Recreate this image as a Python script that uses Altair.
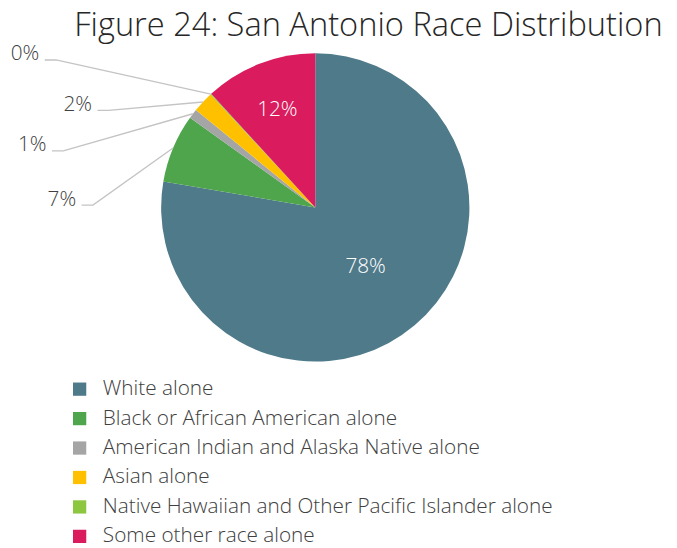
import math
import altair as alt
import pandas as pd

# ---- data ----
categories = [
    "White alone",
    "Black or African American alone",
    "American Indian and Alaska Native alone",
    "Asian alone",
    "Native Hawaiian and Other Pacific Islander alone",
    "Some other race alone",
]
shares = [77.7, 7.2, 1.0, 2.2, 0.1, 11.8]
pct_labels = ["78%", "7%", "1%", "2%", "0%", "12%"]
colors = ["#4F7A8A", "#4EA54B", "#A5A5A5", "#FFC000", "#8DC63F", "#DA1B5E"]
title_text = "Figure 24: San Antonio Race Distribution"

# ---- layout (pixels) ----
W, H = 669, 540
CX, CY, R = 311, 198.6, 156
FONT = "Open Sans"
LABEL_SIZE = 21
inside_radius = {"White alone": 79, "Some other race alone": 106}
elbows = {
    "Black or African American alone": (86, 196.3),
    "American Indian and Alaska Native alone": (56, 141.3),
    "Asian alone": (102, 100.3),
    "Native Hawaiian and Other Pacific Islander alone": (48.7, 49.3),
}
TAIL = 11.5

total = sum(shares)
rows = []
cum = 0.0
for i, (c, s, lab) in enumerate(zip(categories, shares, pct_labels)):
    mid = (cum + s / 2) / total * 2 * math.pi
    rows.append(dict(category=c, share=s, idx=i, label=lab, mid=mid, cx=CX, cy=CY))
    cum += s
df = pd.DataFrame(rows)
for c, rad in inside_radius.items():
    df["in_" + str(rad)] = [lab if cat == c else "" for cat, lab in zip(df.category, df.label)]

line_rows, out_rows = [], []
for r in rows:
    if r["category"] in elbows:
        ex, ey = elbows[r["category"]]
        sx = CX + R * math.sin(r["mid"])
        sy = CY - R * math.cos(r["mid"])
        pts = [(sx, sy), (ex, ey), (ex - TAIL, ey)]
        for k, (px, py) in enumerate(pts):
            line_rows.append(dict(category=r["category"], k=k, px=px, py=py))
        out_rows.append(dict(label=r["label"], px=ex - TAIL - 5.5, py=ey + 0.5))
lines_df = pd.DataFrame(line_rows)
out_df = pd.DataFrame(out_rows)

theta = alt.Theta("share:Q", stack=True)
order = alt.Order("idx:Q")
cx = alt.X("cx:Q", scale=None, axis=None)
cy = alt.Y("cy:Q", scale=None, axis=None)

arc = alt.Chart(df).mark_arc(outerRadius=R).encode(
    theta=theta,
    order=order,
    color=alt.Color(
        "category:N",
        scale=alt.Scale(domain=categories, range=colors),
        sort=categories,
        legend=alt.Legend(
            title=None,
            orient="none",
            legendX=62,
            legendY=372,
            direction="vertical",
            symbolType="square",
            symbolSize=180,
            symbolStrokeWidth=0,
            labelFont=FONT,
            labelFontSize=21,
            labelFontWeight=300,
            labelColor="#404040",
            labelOffset=13,
            labelLimit=700,
            rowPadding=7.8,
            padding=0,
        ),
    ),
    x=cx,
    y=cy,
)

inside_layers = []
for rad in inside_radius.values():
    inside_layers.append(
        alt.Chart(df).mark_text(
            font=FONT, fontSize=LABEL_SIZE, fontWeight=300, color="white", radius=rad
        ).encode(theta=theta, order=order, text=f"in_{rad}:N", x=cx, y=cy)
    )

leaders = alt.Chart(lines_df).mark_line(color="#C4C4C4", strokeWidth=1.4).encode(
    x=alt.X("px:Q", scale=None, axis=None),
    y=alt.Y("py:Q", scale=None, axis=None),
    detail="category:N",
    order="k:Q",
)

outside = alt.Chart(out_df).mark_text(
    font=FONT, fontSize=LABEL_SIZE, fontWeight=300, color="#404040",
    align="right", baseline="alphabetic",
).encode(
    x=alt.X("px:Q", scale=None, axis=None),
    y=alt.Y("py:Q", scale=None, axis=None),
    text="label:N",
)

title = alt.Chart(pd.DataFrame({"t": [title_text]})).mark_text(
    font=FONT, fontSize=33, fontWeight=300, color="#262626",
    align="left", baseline="alphabetic",
).encode(text="t:N", x=alt.value(67), y=alt.value(25.5))

chart = alt.layer(arc, *inside_layers, leaders, outside, title).properties(
    width=W, height=H, autosize="none", padding=0
).configure_view(stroke=None)

chart.save("out.html", embed_options={"renderer": "svg", "actions": False})
